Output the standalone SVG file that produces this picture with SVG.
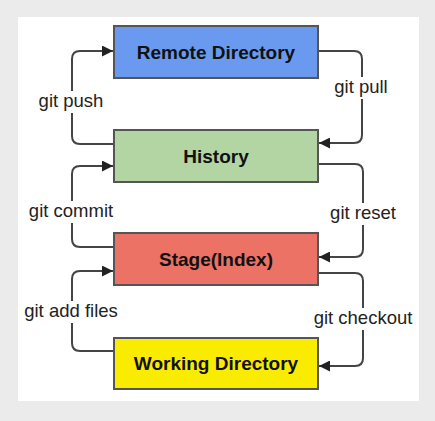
<svg xmlns="http://www.w3.org/2000/svg" width="435" height="421" viewBox="0 0 435 421">
<defs>
<style>
.node rect{stroke:#555;stroke-width:2}
.node text{font-family:"Liberation Sans",Arial,sans-serif;font-weight:bold;font-size:19px;fill:#111;text-anchor:middle}
.conn path{fill:none;stroke:#444;stroke-width:2}
.lbl{font-family:"Liberation Sans",Arial,sans-serif;font-size:18.5px;fill:#222;text-anchor:middle}
.lblbg{fill:#fff}
</style>
<marker id="ah" viewBox="0 0 10 10" refX="10" refY="5" markerWidth="11" markerHeight="11" markerUnits="userSpaceOnUse" orient="auto">
<path d="M0,0 L10,5 L0,10 Z" fill="#222"/>
</marker>
</defs>
<rect width="435" height="421" fill="#ebebeb"/>
<rect x="18" y="17" width="401" height="384" fill="#fff"/>
<g class="conn">
<path d="M114,144 H80 Q72,144 72,136 V59 Q72,51 80,51 H113" marker-end="url(#ah)"/>
<path d="M318,51 H354 Q362,51 362,59 V135 Q362,143 354,143 H319" marker-end="url(#ah)"/>
<path d="M114,247 H80 Q72,247 72,239 V174 Q72,166 80,166 H113" marker-end="url(#ah)"/>
<path d="M318,164 H355 Q363,164 363,172 V249 Q363,257 355,257 H319" marker-end="url(#ah)"/>
<path d="M114,351 H80 Q72,351 72,343 V279 Q72,271 80,271 H113" marker-end="url(#ah)"/>
<path d="M318,273 H355 Q363,273 363,281 V358 Q363,366 355,366 H319" marker-end="url(#ah)"/>
</g>
<g id="labels">
<rect class="lblbg" x="34" y="91" width="74" height="22"/>
<text class="lbl" x="71" y="107">git push</text>
<rect class="lblbg" x="330" y="77" width="62" height="22"/>
<text class="lbl" x="361" y="93">git pull</text>
<rect class="lblbg" x="24" y="201" width="94" height="22"/>
<text class="lbl" x="71" y="217">git commit</text>
<rect class="lblbg" x="326" y="203" width="74" height="22"/>
<text class="lbl" x="363" y="219">git reset</text>
<rect class="lblbg" x="19" y="301" width="104" height="22"/>
<text class="lbl" x="71" y="317">git add files</text>
<rect class="lblbg" x="309" y="308" width="108" height="22"/>
<text class="lbl" x="363" y="324">git checkout</text>
</g>
<g id="remote" class="node">
<rect x="114" y="26" width="204" height="52" fill="#6a9af0"/>
<text x="216" y="59">Remote Directory</text>
</g>
<g id="history" class="node">
<rect x="114" y="130" width="204" height="52" fill="#b3d4a3"/>
<text x="216" y="163">History</text>
</g>
<g id="stage" class="node">
<rect x="114" y="233" width="204" height="52" fill="#ec7266"/>
<text x="216" y="266">Stage(Index)</text>
</g>
<g id="working" class="node">
<rect x="114" y="338" width="204" height="51" fill="#f9ec00"/>
<text x="216" y="370">Working Directory</text>
</g>
</svg>
